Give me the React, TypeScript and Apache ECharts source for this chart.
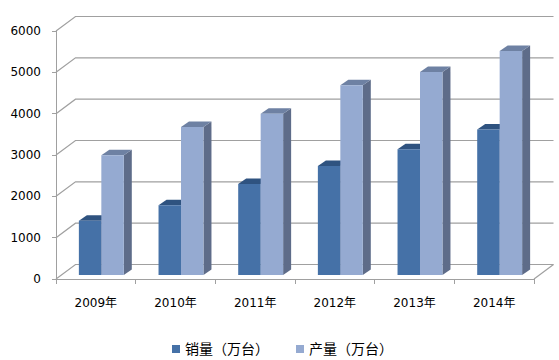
import React, { useEffect, useRef } from "react";
import * as echarts from "echarts";

const categories = ["2009年", "2010年", "2011年", "2012年", "2013年", "2014年"];
const salesName = "销量（万台）";
const productionName = "产量（万台）";
const salesValues = [1310, 1690, 2200, 2640, 3040, 3520];
const productionValues = [2900, 3580, 3900, 4590, 4910, 5420];
const yTicks = [0, 1000, 2000, 3000, 4000, 5000, 6000];

const FONT = "'DejaVu Sans', 'Noto Sans CJK SC', sans-serif";
const WALL_DX = 19.5;
const WALL_DY = -14.5;
const BAR_DX = 5.5;
const BAR_DY = -4;
const DEPTH_X = 8;
const DEPTH_Y = -5.5;
const BAR_RATIO = 0.282;

function makeBarRender(side: number, colors: { front: string; top: string; side: string }) {
  return (params: any, api: any) => {
    const idx = api.value(0);
    const top = api.coord([idx, api.value(1)]);
    const base = api.coord([idx, 0]);
    const band = api.size([1, 0])[0];
    const w = band * BAR_RATIO;
    const left = (side === 0 ? top[0] - w : top[0]) + BAR_DX;
    const yT = top[1] + BAR_DY;
    const yB = base[1] + BAR_DY;
    return {
      type: "group",
      children: [
        {
          type: "polygon",
          shape: {
            points: [
              [left + w, yT],
              [left + w + DEPTH_X, yT + DEPTH_Y],
              [left + w + DEPTH_X, yB + DEPTH_Y],
              [left + w, yB],
            ],
          },
          style: { fill: colors.side },
        },
        {
          type: "polygon",
          shape: {
            points: [
              [left, yT],
              [left + w, yT],
              [left + w + DEPTH_X, yT + DEPTH_Y],
              [left + DEPTH_X, yT + DEPTH_Y],
            ],
          },
          style: { fill: colors.top },
        },
        {
          type: "rect",
          shape: { x: left, y: yT, width: w, height: yB - yT },
          style: { fill: colors.front },
        },
      ],
    };
  };
}

export default function App() {
  const ref = useRef<HTMLDivElement>(null);
  useEffect(() => {
    if (!ref.current) return;
    const chart = echarts.init(ref.current, null, { renderer: "svg" });
    const darkColors = { front: "#4571A7", top: "#2F5380", side: "#2C4A70" };
    const lightColors = { front: "#95AAD1", top: "#6E81A3", side: "#5E6C89" };
    chart.setOption({
      animation: false,
      backgroundColor: "#ffffff",
      grid: { left: 56, right: 25, top: 31, bottom: 81, containLabel: false },
      legend: {
        left: 172,
        top: 342,
        padding: 0,
        itemWidth: 8,
        itemHeight: 8,
        itemGap: 27,
        icon: "rect",
        textStyle: { fontFamily: FONT, fontSize: 14, color: "#000" },
        data: [salesName, productionName],
      },
      xAxis: {
        type: "category",
        data: categories,
        boundaryGap: true,
        axisLine: { show: true, lineStyle: { color: "#A0A0A0", width: 1 } },
        axisTick: { show: true, length: 5, lineStyle: { color: "#A0A0A0" } },
        axisLabel: { fontFamily: FONT, fontSize: 12, color: "#000", margin: 18 },
        splitLine: { show: false },
      },
      yAxis: {
        type: "value",
        min: 0,
        max: 6000,
        interval: 1000,
        axisLine: { show: true, lineStyle: { color: "#A0A0A0", width: 1 } },
        axisTick: { show: true, length: 4, lineStyle: { color: "#A0A0A0" } },
        axisLabel: {
          fontFamily: FONT,
          fontSize: 12,
          color: "#000",
          margin: 15,
          formatter: (v: number) => String(v),
        },
        splitLine: { show: false },
      },
      series: [
        {
          type: "custom",
          name: "walls",
          silent: true,
          clip: false,
          z: 1,
          data: yTicks.map((v) => [0, v]),
          renderItem: (params: any, api: any) => {
            const cs = params.coordSys;
            const L = cs.x;
            const R = cs.x + cs.width;
            const y = api.coord([0, api.value(1)])[1];
            const children: any[] = [
              {
                type: "polyline",
                shape: {
                  points: [
                    [L, y],
                    [L + WALL_DX, y + WALL_DY],
                    [R + WALL_DX, y + WALL_DY],
                  ],
                },
                style: { stroke: "#A0A0A0", lineWidth: 1.2, fill: "none" },
              },
            ];
            if (api.value(1) === 0) {
              children.push({
                type: "line",
                shape: { x1: R, y1: y, x2: R + WALL_DX, y2: y + WALL_DY },
                style: { stroke: "#A0A0A0", lineWidth: 1.2 },
              });
            }
            return { type: "group", children };
          },
        },
        {
          type: "custom",
          name: salesName,
          clip: false,
          z: 2,
          itemStyle: { color: darkColors.front },
          data: salesValues.map((v, i) => [i, v]),
          encode: { x: 0, y: 1 },
          renderItem: makeBarRender(0, darkColors),
        },
        {
          type: "custom",
          name: productionName,
          clip: false,
          z: 3,
          itemStyle: { color: lightColors.front },
          data: productionValues.map((v, i) => [i, v]),
          encode: { x: 0, y: 1 },
          renderItem: makeBarRender(1, lightColors),
        },
      ],
    });
    return () => chart.dispose();
  }, []);
  return (
    <div
      ref={ref}
      style={{ position: "fixed", left: 0, top: 0, width: 559, height: 360 }}
    />
  );
}
